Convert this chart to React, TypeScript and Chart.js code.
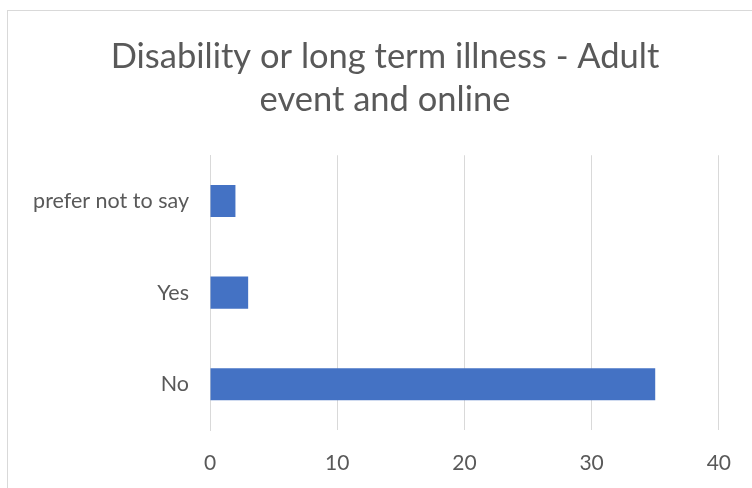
import React, { useEffect, useRef } from "react";
import { Chart, registerables } from "chart.js";

Chart.register(...registerables);

const categories = ["prefer not to say", "Yes", "No"];
const values = [2, 3, 35];
const xTicks = [0, 10, 20, 30, 40];
const titleLines = ["Disability or long term illness - Adult", "event and online"];

const FONT = "Lato, 'Open Sans', sans-serif";
const TEXT = "#595959";
const GRID = "#d9d9d9";

const borderPlugin = {
  id: "outerBorder",
  afterLayout(chart: any) {
    const t = chart.titleBlock;
    if (t) {
      t.left = 18;
      t.right = 752;
    }
  },
  beforeDraw(chart: any) {
    const ctx = chart.ctx;
    ctx.save();
    ctx.fillStyle = "#ffffff";
    ctx.fillRect(0, 0, chart.width, chart.height);
    ctx.strokeStyle = GRID;
    ctx.lineWidth = 1;
    ctx.strokeRect(7.5, 10.5, 900, 900);
    ctx.restore();
  },
};

export default function App() {
  const ref = useRef<HTMLCanvasElement | null>(null);
  useEffect(() => {
    if (!ref.current) return;
    const chart = new Chart(ref.current, {
      type: "bar",
      data: {
        labels: categories,
        datasets: [
          {
            data: values,
            backgroundColor: "#4472C4",
            borderWidth: 0,
            barPercentage: 0.35,
            categoryPercentage: 1,
          },
        ],
      },
      options: {
        indexAxis: "y",
        animation: false,
        responsive: false,
        maintainAspectRatio: false,
        layout: { padding: { left: 18, right: 33, top: 0, bottom: 0 } },
        plugins: {
          legend: { display: false },
          tooltip: { enabled: false },
          title: {
            display: true,
            text: titleLines,
            color: TEXT,
            font: { family: FONT, size: 34.5, weight: "normal", lineHeight: 1.25 },
            padding: { top: 35.5, bottom: 33.5 },
          },
        },
        scales: {
          x: {
            min: 0,
            max: 40,
            afterBuildTicks(scale: any) {
              scale.ticks = xTicks.map((v) => ({ value: v }));
            },
            afterFit(scale: any) {
              scale.height = 58;
            },
            grid: { color: GRID, drawTicks: false, lineWidth: 1 },
            border: { display: false },
            ticks: { color: TEXT, font: { family: FONT, size: 21 }, padding: 21 },
          },
          y: {
            afterFit(scale: any) {
              scale.width = 192;
            },
            grid: { display: false, drawTicks: false },
            border: { display: true, color: GRID, width: 1 },
            ticks: { color: TEXT, font: { family: FONT, size: 21.5 }, padding: 21 },
          },
        },
      },
      plugins: [borderPlugin],
    });
    return () => chart.destroy();
  }, []);
  return (
    <div style={{ position: "fixed", left: 0, top: 0, width: 752, height: 488, background: "#fff" }}>
      <canvas ref={ref} width={752} height={488} style={{ display: "block", width: 752, height: 488 }} />
    </div>
  );
}
